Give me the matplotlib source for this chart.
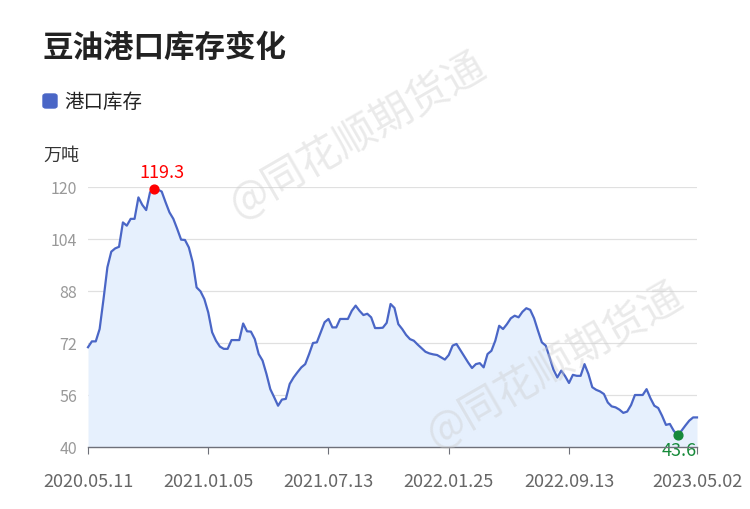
import matplotlib
matplotlib.use("Agg")
import matplotlib.pyplot as plt
from matplotlib.patches import FancyBboxPatch
import numpy as np

plt.rcParams['font.family'] = ['Noto Sans CJK SC', 'DejaVu Sans']

title = "豆油港口库存变化"
series_name = "港口库存"
unit = "万吨"
tick_labels = ["2020.05.11", "2021.01.05", "2021.07.13", "2022.01.25", "2022.09.13", "2023.05.02"]
tick_index = [0, 31, 62, 93, 124, 157]
yticks = [40, 56, 72, 88, 104, 120]

values = [
    70.7, 72.5, 72.5, 76.3, 85.5, 95.3, 100.1, 101.1, 101.6, 109.1,
    108.1, 110.2, 110.2, 116.8, 114.5, 112.9, 118.4, 119.3, 119.2, 118.6,
    115.3, 112.2, 110.2, 107.1, 103.8, 103.7, 101.4, 96.8, 89.1, 87.9,
    85.5, 81.4, 75.3, 72.7, 70.9, 70.2, 70.2, 72.9, 72.9, 72.9,
    78.0, 75.6, 75.5, 73.2, 68.6, 66.6, 62.5, 57.8, 55.3, 52.7,
    54.6, 54.8, 59.4, 61.4, 63.0, 64.5, 65.5, 68.6, 72.0, 72.2,
    75.3, 78.4, 79.4, 76.8, 76.8, 79.4, 79.4, 79.4, 81.9, 83.5,
    81.9, 80.6, 81.0, 79.9, 76.6, 76.6, 76.7, 78.2, 84.0, 82.8,
    77.8, 76.3, 74.5, 73.2, 72.7, 71.5, 70.4, 69.3, 68.8, 68.5,
    68.3, 67.6, 66.9, 68.3, 71.2, 71.7, 69.8, 67.9, 66.0, 64.3,
    65.5, 65.8, 64.5, 68.6, 69.6, 72.7, 77.3, 76.3, 77.8, 79.6,
    80.4, 79.9, 81.6, 82.7, 82.2, 79.6, 75.8, 72.2, 71.2, 67.6,
    63.8, 61.4, 63.5, 61.8, 59.7, 62.2, 61.9, 61.9, 65.5, 62.5,
    58.4, 57.6, 57.1, 56.3, 53.7, 52.5, 52.2, 51.5, 50.5, 50.9,
    52.9, 56.0, 56.0, 56.0, 57.8, 55.0, 52.7, 52.0, 49.6, 46.8,
    47.1, 45.0, 43.6, 45.0, 46.6, 48.1, 49.1, 49.1,
]

line_color = "#4a66c6"
fill_color = "#e6f0fd"

fig = plt.figure(figsize=(7.5, 5.1), dpi=100)
W, H = 750, 510
ax = fig.add_axes([88 / W, 1 - 448 / H, (697 - 88) / W, (448 - 188) / H])

x = np.arange(len(values))
y = np.array(values)
ax.fill_between(x, y, 40, color=fill_color, lw=0, zorder=1)
ax.plot(x, y, color=line_color, lw=1.6, zorder=3, clip_on=False)

ax.set_xlim(0, len(values) - 1)
ax.set_ylim(40, 120)
ax.set_yticks(yticks)
ax.set_yticklabels([str(v) for v in yticks])
ax.set_xticks(tick_index)
ax.set_xticklabels(tick_labels)
for v in yticks[1:]:
    ax.axhline(v, color="#e0e0e0", lw=0.9, zorder=0)
for s in ["top", "right", "left"]:
    ax.spines[s].set_visible(False)
ax.spines["bottom"].set_color("#6e7079")
ax.spines["bottom"].set_linewidth(1.0)
ax.spines["bottom"].set_zorder(4)
ax.tick_params(axis="y", length=0, labelsize=11.5, labelcolor="#999999", pad=8)
ax.tick_params(axis="x", length=5, color="#6e7079", labelsize=13, labelcolor="#666666", pad=13)

imax = int(np.argmax(y))
imin = int(np.argmin(y))
ax.scatter([imax], [y[imax]], s=40, color="#ff0000", zorder=5, clip_on=False)
ax.annotate(f"{y[imax]:.1f}", (imax, y[imax]), xytext=(6, 6), textcoords="offset points",
            ha="center", va="bottom", color="#ff0000", fontsize=13)
ax.scatter([imin], [y[imin]], s=40, color="#168a3a", zorder=5, clip_on=False)
ax.annotate(f"{y[imin]:.1f}", (imin, y[imin]), xytext=(1, -4), textcoords="offset points",
            ha="center", va="top", color="#168a3a", fontsize=13)

fig.text(43 / W, 1 - 48 / H, title, fontsize=22, fontweight="bold", color="#222222",
         ha="left", va="center")
fig.patches.append(FancyBboxPatch((43 / W, 1 - 109 / H), 14 / W, 14 / H,
                                  boxstyle="round,pad=0,rounding_size=0.004",
                                  transform=fig.transFigure, color=line_color))
fig.text(64 / W, 1 - 102 / H, series_name, fontsize=14, color="#222222",
         ha="left", va="center")
fig.text(43 / W, 1 - 156 / H, unit, fontsize=13, color="#333333", ha="left", va="center")

for cx, cy in [(358, 135), (555, 365)]:
    fig.text(cx / W, 1 - cy / H, "@同花顺期货通", fontsize=30, color="#cccccc", alpha=0.4,
             rotation=30, ha="center", va="center", zorder=10)

fig.savefig("out.png", dpi=100)
